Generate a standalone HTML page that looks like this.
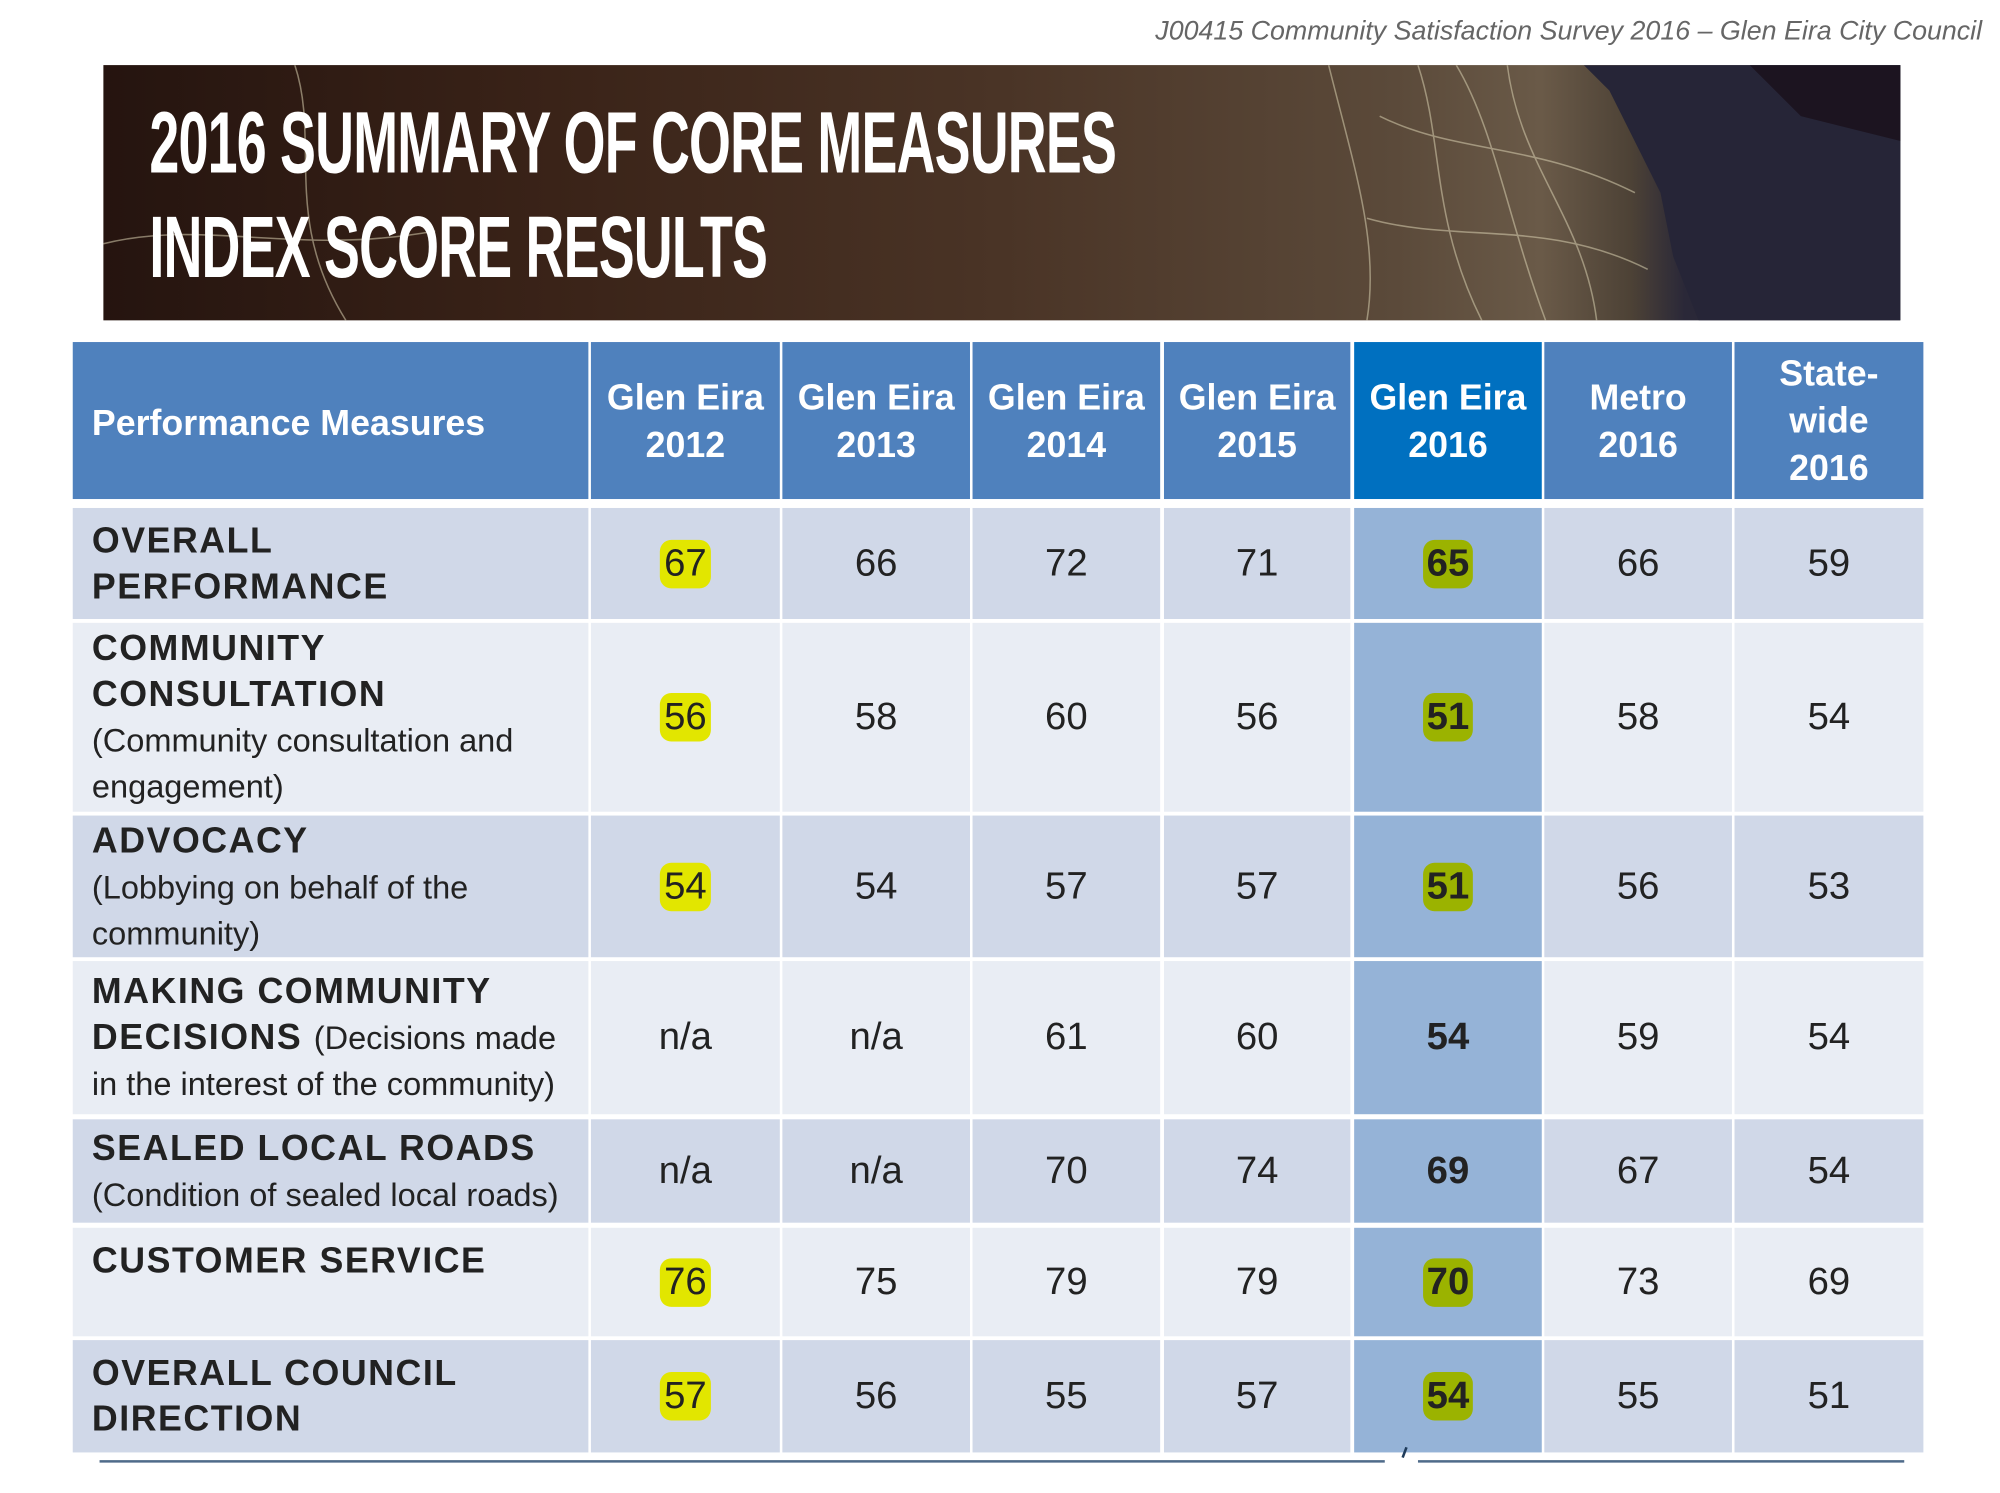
<!DOCTYPE html>
<html><head><meta charset="utf-8"><style>
html,body{margin:0;padding:0;background:#fff;width:2000px;height:1493px;overflow:hidden}
#s{position:absolute;left:0;top:0;width:1560px;height:1170px;transform:scale(1.2763);transform-origin:0 0;font-family:"Liberation Sans",Arial,sans-serif}
.a{position:absolute}
.hd{position:absolute;top:268px;height:123px;background:#4f81bd;color:#fff;font-weight:bold;font-size:28px;line-height:37px;display:flex;align-items:center;justify-content:center;text-align:center}
.c{position:absolute;display:flex;align-items:center;justify-content:center;font-size:30px;color:#222}
.l{position:absolute;padding-left:15px;box-sizing:border-box;color:#222;font-size:28px;font-weight:bold;line-height:36px;letter-spacing:1.2px}
.l span{font-weight:normal;font-size:25.5px;line-height:31px;letter-spacing:0}
.y{background:#e2e600;border-radius:9px;padding:2px 3px}
.g{background:#9bb300;border-radius:9px;padding:2px 3px;font-weight:bold}
</style></head><body><div id="s">
<div class="a" style="right:7px;top:13px;font-size:21px;font-style:italic;color:#666">J00415 Community Satisfaction Survey 2016 – Glen Eira City Council</div>
<div class="a" style="left:81px;top:51px;width:1408px;height:200px;background:linear-gradient(90deg,#25140f 0%,#3a2318 25%,#4a3426 50%,#5b4a3a 72%,#6a5a48 80%,#4d4236 85%,#2a2838 88%,#23222f 100%);overflow:hidden">
<svg width="1408" height="200" style="position:absolute;left:0;top:0">
<polygon points="1160,0 1408,0 1408,200 1250,200 1230,150 1220,100 1200,60 1180,20" fill="#262537"/>
<polygon points="1290,0 1410,0 1410,60 1330,40" fill="#1c1420"/>
<g stroke="#d8cfb0" stroke-width="1.2" fill="none" opacity="0.55">
<path d="M1030,0 C1050,60 1040,120 1080,200"/><path d="M1060,0 C1090,50 1100,120 1130,200"/><path d="M1000,40 C1060,70 1120,60 1200,100"/><path d="M990,120 C1060,140 1130,120 1210,160"/><path d="M1100,0 C1110,80 1160,120 1170,200"/><path d="M150,0 C170,60 140,120 190,200"/><path d="M0,140 C80,120 150,150 260,130"/><path d="M960,0 C980,80 1000,140 990,200"/>
</g></svg>
<div class="a" style="left:36px;top:20px;color:#fff;font-family:'Liberation Sans Narrow','Liberation Sans',sans-serif;font-weight:bold;font-size:68px;line-height:82px;transform:scaleX(0.62);transform-origin:0 0;white-space:nowrap;letter-spacing:-1px">2016 SUMMARY OF CORE MEASURES<br>INDEX SCORE RESULTS</div>
</div>
<div class="hd" style="left:57px;width:404px;justify-content:flex-start;padding-left:15px;box-sizing:border-box;padding-top:3px">Performance Measures</div>
<div class="hd" style="left:463px;width:148px">Glen Eira<br>2012</div>
<div class="hd" style="left:613px;width:147px">Glen Eira<br>2013</div>
<div class="hd" style="left:762px;width:147px">Glen Eira<br>2014</div>
<div class="hd" style="left:912px;width:146px">Glen Eira<br>2015</div>
<div class="hd" style="left:1061px;width:147px;background:#0070c0">Glen Eira<br>2016</div>
<div class="hd" style="left:1210px;width:147px">Metro<br>2016</div>
<div class="hd" style="left:1359px;width:148px">State-<br>wide<br>2016</div>
<div id="rows"></div>
<svg class="a" style="left:0;top:1130px" width="1560" height="30"><line x1="78" y1="15" x2="1085" y2="15" stroke="#4f6b8a" stroke-width="2"/><line x1="1111" y1="15" x2="1492" y2="15" stroke="#4f6b8a" stroke-width="2"/><line x1="1102" y1="4" x2="1099" y2="12" stroke="#1f3b5a" stroke-width="2"/></svg>
</div>
<script>
var cols=[[463,148],[613,147],[762,147],[912,146],[1061,147],[1210,147],[1359,148]];
var rows=[
[398,87,'OVERALL<br>PERFORMANCE',['67','66','72','71','65','66','59'],0],
[488,148,'COMMUNITY<br>CONSULTATION<br><span>(Community consultation and<br>engagement)</span>',['56','58','60','56','51','58','54'],1],
[639,111,'ADVOCACY<br><span>(Lobbying on behalf of the<br>community)</span>',['54','54','57','57','51','56','53'],0],
[753,120,'MAKING COMMUNITY<br>DECISIONS <span>(Decisions made<br>in the interest of the community)</span>',['n/a','n/a','61','60','54','59','54'],1],
[877,81,'SEALED LOCAL ROADS<br><span>(Condition of sealed local roads)</span>',['n/a','n/a','70','74','69','67','54'],0],
[962,85,'CUSTOMER SERVICE',['76','75','79','79','70','73','69'],1],
[1050,88,'OVERALL COUNCIL<br>DIRECTION',['57','56','55','57','54','55','51'],0]];
var h='';
rows.forEach(function(r,i){
 var bg=r[4]?'#e9edf4':'#d0d8e8';
 h+='<div class="l" style="left:57px;width:404px;top:'+r[0]+'px;height:'+r[1]+'px;background:'+bg+';display:flex;flex-direction:column;justify-content:'+(i==5?'flex-start;padding-top:8px':'center')+'"><div>'+r[2]+'</div></div>';
 var has=r[3][0]!='n/a';
 cols.forEach(function(c,j){
  var b=j==4?'#95b3d7':bg;var v=r[3][j];
  var hl=v;
  if(j==0&&has)hl='<span class="y">'+v+'</span>';
  else if(j==4)hl=has?'<span class="g">'+v+'</span>':'<b>'+v+'</b>';
  h+='<div class="c" style="left:'+c[0]+'px;width:'+c[1]+'px;top:'+r[0]+'px;height:'+r[1]+'px;background:'+b+'">'+hl+'</div>';
 });
});
document.getElementById('rows').innerHTML=h;
</script>
</body></html>
